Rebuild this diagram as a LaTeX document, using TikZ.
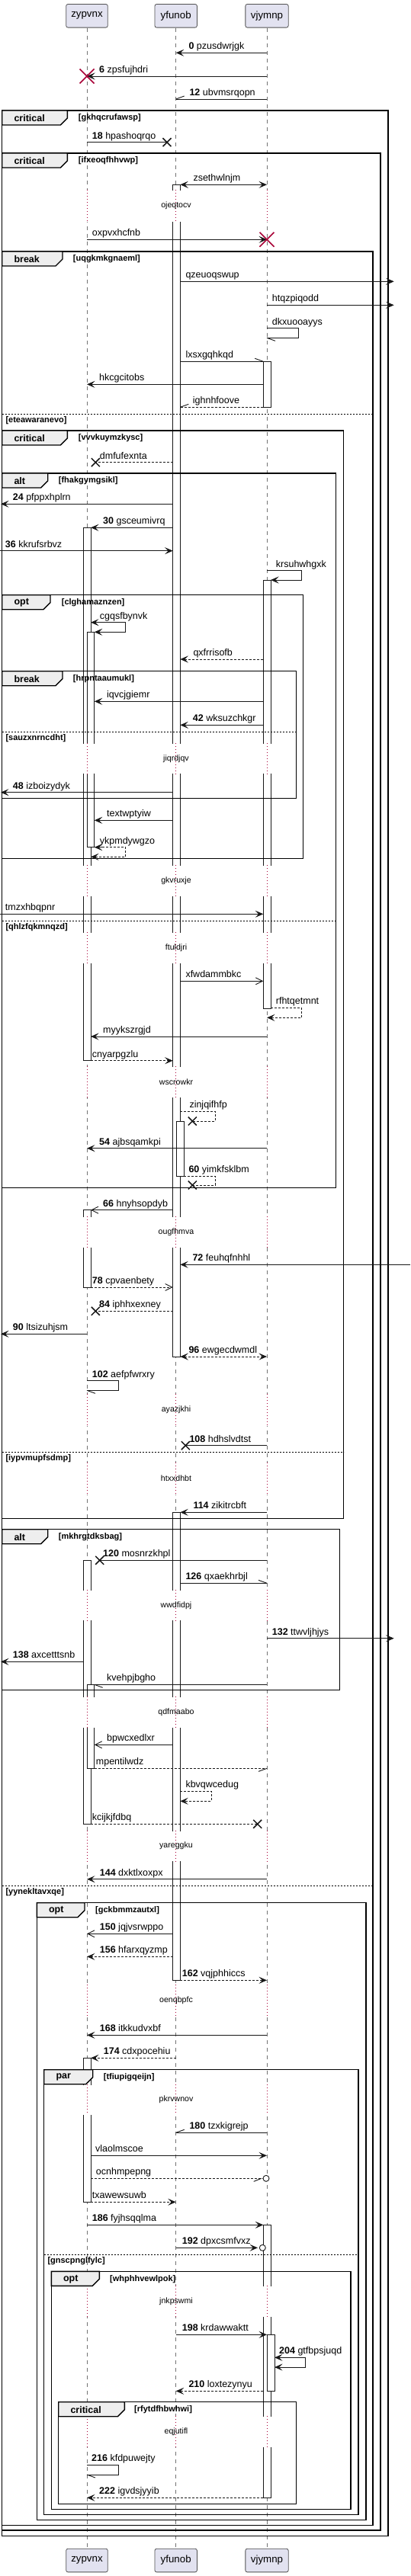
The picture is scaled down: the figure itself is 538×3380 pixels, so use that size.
\documentclass[tikz,border=0pt]{standalone}
\usepackage{fontspec}
\setmainfont{Liberation Sans}
\usetikzlibrary{arrows.meta}
\definecolor{pfill}{HTML}{E2E2F0}
\definecolor{pline}{HTML}{181818}
\definecolor{tabfill}{HTML}{EEEEEE}
\definecolor{xred}{HTML}{A80036}
\def\XZ{114}\def\XY{230.7}\def\XV{350}
\def\XZl{109.3}\def\XZr{119}\def\XZnl{114.3}\def\XZnr{123.7}
\def\XYl{226.7}\def\XYr{236.3}\def\XYnl{231.7}\def\XYnr{241.3}
\def\XVl{345.3}\def\XVr{355}\def\XVnl{350}\def\XVnr{360}
\newcommand\snum[1]{\textbf{#1}}
\tikzset{
 msg/.style={draw=pline, line width=0.9pt},
 fa/.style={-{Stealth[length=10.5pt,width=9pt,inset=4.5pt]}},
 fab/.style={{Stealth[length=10.5pt,width=9pt,inset=4.5pt]}-{Stealth[length=10.5pt,width=9pt,inset=4.5pt]}},
 oa/.style={-{Straight Barb[length=9pt,width=9pt]}},
 dsh/.style={dash pattern=on 3pt off 2pt},
 lb/.style={anchor=base west, inner sep=0pt, font=\fontsize{12.5}{15}\selectfont, text=black},
 part/.style={draw=pline!75, line width=0.8pt, fill=pfill, rounded corners=2.5pt, minimum height=30.7pt, inner sep=0pt, font=\fontsize{13.3}{16}\selectfont},
 life/.style={draw=black!55, line width=0.6pt, dash pattern=on 5pt off 5pt},
 actb/.style={draw=pline, line width=0.9pt, fill=white},
 frm/.style={draw=black, line width=1.4pt},
 kw/.style={anchor=west, inner sep=0pt, font=\bfseries\fontsize{12.5}{15}\selectfont},
 grd/.style={anchor=west, inner sep=0pt, font=\bfseries\fontsize{11}{13}\selectfont},
 elsl/.style={draw=black, line width=0.8pt, dash pattern=on 2pt off 2pt},
 dlyl/.style={draw=xred, line width=0.9pt, dash pattern=on 1pt off 3pt},
 dtx/.style={inner sep=0pt, font=\fontsize{10.6}{12}\selectfont},
}
\newcommand\msgA[6][]{\draw[msg,#1] (#2,#4) -- (#3,#4); \node[lb] at (#5,#4-4.5) {#6};}
\newcommand\msgS[8][]{\draw[msg,#1] (#2,#4) -- (#3,#4) -- (#3,#5) -- (#6,#5); \node[lb] at (#7,#4-4.5) {#8};}
\newcommand\hbarb[4]{\draw[msg] (#1,#2) -- ++(#3,#4);}
\newcommand\xdst[2]{\draw[xred, line width=1.6pt] (#1-9.5,#2-9.5) -- (#1+9.5,#2+9.5) (#1-9.5,#2+9.5) -- (#1+9.5,#2-9.5);}
\newcommand\xlost[2]{\draw[pline, line width=1.5pt] (#1-5.5,#2-5.5) -- (#1+5.5,#2+5.5) (#1-5.5,#2+5.5) -- (#1+5.5,#2-5.5);}
\newcommand\act[4]{\filldraw[actb] (#1,#3) rectangle (#2,#4);}
\newcommand\dly[3]{%
 \fill[white] (\XZ-13,#1+1) rectangle (\XZ+13,#2-0.5);
 \fill[white] (\XY-13,#1+1) rectangle (\XY+13,#2-0.5);
 \fill[white] (\XV-13,#1+1) rectangle (\XV+13,#2-0.5);
 \draw[dlyl] (\XZ,#1) -- (\XZ,#2) (\XY,#1) -- (\XY,#2) (\XV,#1) -- (\XV,#2);
 \node[dtx] at (231,{(#1+#2)/2}) {#3};}
\newcommand\grp[8]{%
 \draw[frm] (#1,#3) rectangle (#2,#4);
 \filldraw[frm, fill=tabfill] (#1,#3) -- (#5,#3) -- (#5,#3+10) -- (#5-9,#3+19) -- (#1,#3+19) -- cycle;
 \node[kw] at (#1+15.6,#3+10) {#6};
 \node[grd] at (#8,#3+10) {#7};}
\newcommand\els[4]{\draw[elsl] (#1,#3) -- (#2,#3); \node[grd] at (#1+4.6,#3+8.4) {#4};}
\begin{document}
\begin{tikzpicture}[x=1pt,y=-1pt]
\fill[white] (0,0) rectangle (538,3380);
\useasboundingbox (0,0) rectangle (538,3380);
% participants
\node[part, minimum width=54.6pt] (pz) at (\XZ,20.8) {zypvnx};
\node[part, minimum width=55.4pt] (py) at (\XY,20.8) {yfunob};
\node[part, minimum width=56.3pt] (pv) at (\XV,20.8) {vjymnp};
\node[part, minimum width=54.6pt] (bz) at (\XZ,3359.5) {zypvnx};
\node[part, minimum width=55.4pt] (by) at (\XY,3359.5) {yfunob};
\node[part, minimum width=56.3pt] (bv) at (\XV,3359.5) {vjymnp};
\draw[life] (pz.south) -- (bz.north);
\draw[life] (py.south) -- (by.north);
\draw[life] (pv.south) -- (bv.north);
% activations
\act{\XYl}{\XYr}{242.3}{1780}
\act{\XVl}{\XVr}{474.3}{534.3}
\act{\XZl}{\XZr}{692.3}{1391.7}
\act{\XVl}{\XVr}{761}{1323}
\act{\XZnl}{\XZnr}{829.3}{1111.7}
\act{\XYnl}{\XYnr}{1471}{1543.3}
\act{\XZl}{\XZr}{1587.7}{1689}
\act{\XYl}{\XYr}{1984.3}{2598.3}
\act{\XZl}{\XZr}{2047.3}{2393.3}
\act{\XZnl}{\XZnr}{2210.3}{2320.3}
\act{\XZl}{\XZr}{2700.3}{2889.3}
\act{\XVl}{\XVr}{2919.3}{3277.3}
\act{\XVnl}{\XVnr}{3063.3}{3137.3}
% delays
\dly{249}{291}{ojeqtocv}
\dly{975}{1015.7}{jiqrdjqv}
\dly{1135}{1176}{gkvruxje}
\dly{1223.3}{1264}{ftuldjri}
\dly{1399}{1440}{wscrowkr}
\dly{1596}{1637.3}{ougfhmva}
\dly{1829.3}{1871}{ayazjkhi}
\dly{1919}{1961}{htxxdhbt}
\dly{2086}{2126.7}{wwdfidpj}
\dly{2225.7}{2267.3}{qdfmaabo}
\dly{2401.7}{2442.7}{yareggku}
\dly{2604}{2646}{oenqbpfc}
\dly{2735}{2775}{pkrvwnov}
\dly{2999.3}{3040}{jnkpswmi}
\dly{3170}{3211.7}{eqjutifl}
% groups
\grp{2.7}{509}{145}{3327.3}{88.3}{critical}{[gkhqcrufawsp]}{102.7}
\grp{2.7}{499}{201}{3320}{88.3}{critical}{[ifxeoqfhhvwp]}{102.7}
\grp{2.7}{489}{330}{3313.3}{82}{break}{[uqgkmkgnaeml]}{95.7}
\els{2.7}{489}{543.3}{[eteawaranevo]}
\els{2.7}{489}{2474.3}{[yynekltavxqe]}
\grp{2.7}{450.7}{565}{1992.3}{88.3}{critical}{[vvvkuymzkysc]}{102.7}
\els{2.7}{450.7}{1905.3}{[iypvmupfsdmp]}
\grp{2.7}{440.7}{621}{1558.3}{62.7}{alt}{[fhakgymgsikl]}{76.7}
\els{2.7}{440.7}{1208.3}{[qhlzfqkmnqzd]}
\grp{2.7}{397.7}{780.7}{1126.7}{66}{opt}{[clghamaznzen]}{80.7}
\grp{2.7}{388.3}{880.7}{1047.3}{82}{break}{[hrpntaaumukl]}{95.7}
\els{2.7}{388.3}{960.3}{[sauzxnrncdht]}
\grp{2.7}{445.7}{2006.7}{2217.7}{62.7}{alt}{[mkhrgtdksbag]}{76.7}
\grp{48.3}{480}{2496.7}{3306.7}{111}{opt}{[gckbmmzautxl]}{125}
\grp{57.7}{470}{2715.7}{3299.3}{121.7}{par}{[tfiupigqeijn]}{135.7}
\els{57.7}{470}{2958.3}{[gnscpnglfylc]}
\grp{67.3}{460}{2980.3}{3292.3}{130.3}{opt}{[whphhvewlpok]}{144}
\grp{76.7}{388.3}{3151.7}{3285.3}{163.3}{critical}{[rfytdfhbwhwi]}{176}
% messages
\msgA[fa]{\XV}{\XY}{69.3}{247.3}{\snum{0} pzusdwrjgk}
\msgA[fa]{\XV}{\XZ}{100}{130}{\snum{6} zpsfujhdri} \xdst{\XZ}{100}
\msgA{\XV}{\XY}{130}{248.3}{\snum{12} ubvmsrqopn} \hbarb{\XY}{130}{11}{-4}
\msgA{\XZ}{219}{186.7}{120.7}{\snum{18} hpashoqrqo} \xlost{219}{186.7}
\msgA[fab]{\XYr}{\XV}{242.3}{253.3}{zsethwlnjm}
\msgA[fa]{\XZ}{\XV}{314.3}{120.7}{oxpvxhcfnb} \xdst{\XV}{314.3}
\msgA[fa]{\XYr}{516.7}{369.3}{243.3}{qzeuoqswup}
\msgA[fa]{\XV}{516.7}{400.3}{356.7}{htqzpiqodd}
\msgS{\XV}{391}{430.7}{443.3}{\XV}{356.7}{dkxuooayys} \hbarb{\XV}{443.3}{11}{4}
\msgA{\XYr}{\XVl}{474.3}{243.3}{lxsxgqhkqd} \hbarb{\XVl}{474.3}{-11}{-4}
\msgA[fa]{\XVl}{\XZ}{504.3}{130}{hkcgcitobs}
\msgA[dsh]{\XVl}{\XYr}{534.3}{252.7}{ighnhfoove} \hbarb{\XYr}{534.3}{11}{-4}
\msgA[dsh]{\XYl}{125.3}{606.7}{130.7}{dmfufexnta} \xlost{125.3}{606.7}
\msgA[fa]{\XYl}{1}{661.3}{16.7}{\snum{24} pfppxhplrn}
\msgA[fa]{\XYl}{\XZr}{692.3}{135}{\snum{30} gsceumivrq}
\msgA[fa]{0}{\XYl}{722.7}{6.7}{\snum{36} kkrufsrbvz}
\msgS[fa]{\XV}{395.7}{748.7}{761}{\XVr}{361.7}{krsuhwhgxk}
\msgS[fa]{\XZr}{164.7}{816.7}{829.3}{\XZnr}{130.7}{cgqsfbynvk} \draw[msg,fa] (\XZr+10,816.7) -- (\XZr,816.7);
\msgA[fa,dsh]{\XVl}{\XYr}{865}{253.3}{qxfrrisofb}
\msgA[fa]{\XVl}{\XZnr}{920.3}{140}{iqvcjgiemr}
\msgA[fa]{\XVl}{\XYr}{951.3}{252.7}{\snum{42} wksuzchkgr}
\msgA[fa]{\XYl}{1}{1039.7}{16.7}{\snum{48} izboizydyk}
\msgA[fa]{\XYl}{\XZnr}{1076.3}{140}{textwptyiw}
\msgS[fa,dsh]{\XZnr}{164.7}{1111.7}{1124.3}{\XZr}{130.7}{ykpmdywgzo} \draw[msg,fa] (\XZnr+10,1111.7) -- (\XZnr,1111.7);
\msgA[fa]{0}{\XVl}{1199.3}{6.7}{tmzxhbqpnr}
\msgA[oa]{\XYr}{\XVl}{1287.3}{243.3}{xfwdammbkc}
\msgS[fa,dsh]{\XVr}{395.7}{1322.3}{1335.3}{\XV}{361.7}{rfhtqetmnt}
\msgA[fa]{\XV}{\XZr}{1360}{135}{myykszrgjd}
\msgA[fa,dsh]{\XZr}{\XYl}{1391.7}{120.7}{cnyarpgzlu}
\msgS[dsh]{\XYr}{282.3}{1458.3}{1471}{252.3}{248.3}{zinjqifhfp} \xlost{252.3}{1471}
\msgA[fa]{\XV}{\XZ}{1506.7}{130}{\snum{54} ajbsqamkpi}
\msgS[dsh]{\XYnr}{282.3}{1543.3}{1555}{252.3}{247.3}{\snum{60} yimkfsklbm} \xlost{252.3}{1555}
\msgA[oa]{\XYl}{\XZr}{1587.7}{135}{\snum{66} hnyhsopdyb}
\msgA[fa]{538}{\XYr}{1659.3}{252.3}{\snum{72} feuhqfnhhl}
\msgA[oa,dsh]{\XZr}{\XYl}{1689}{120.7}{\snum{78} cpvaenbety}
\msgA[dsh]{\XYl}{125.3}{1720.3}{130}{\snum{84} iphhxexney} \xlost{125.3}{1720.3}
\msgA[fa]{\XZ}{1}{1750.3}{16.7}{\snum{90} ltsizuhjsm}
\msgA[fab,dsh]{\XYr}{\XV}{1780}{247.3}{\snum{96} ewgecdwmdl}
\msgS{\XZ}{155}{1811.7}{1824.3}{\XZ}{120.7}{\snum{102} aefpfwrxry} \hbarb{\XZ}{1824.3}{11}{4}
\msgA{\XV}{243.3}{1896.7}{248.3}{\snum{108} hdhslvdtst} \xlost{243.3}{1896.7}
\msgA[fa]{\XV}{\XYr}{1984.3}{253.3}{\snum{114} zikitrcbft}
\msgA{\XV}{130.7}{2047.3}{135}{\snum{120} mosnrzkhpl} \xlost{130.7}{2047.3}
\msgA{\XYr}{\XV}{2077.3}{243.3}{\snum{126} qxaekhrbjl} \hbarb{\XV}{2077.3}{-11}{-4}
\msgA[fa]{\XV}{516.7}{2149.7}{356.7}{\snum{132} ttwvljhjys}
\msgA[fa]{\XZl}{1}{2180.3}{16.7}{\snum{138} axcetttsnb}
\msgA{\XV}{\XZnr}{2210.3}{140}{kvehpjbgho} \hbarb{\XZnr}{2210.3}{11}{4}
\msgA[oa]{\XYl}{\XZnr}{2289.3}{140}{bpwcxedlxr}
\msgA[dsh]{\XZnr}{\XV}{2320.3}{125.7}{mpentilwdz} \hbarb{\XV}{2320.3}{-11}{4}
\msgS[fa,dsh]{\XYr}{277.3}{2350.3}{2363.3}{\XYr}{243.3}{kbvqwcedug}
\msgA[dsh]{\XZr}{337.7}{2393.3}{120.7}{kcijkjfdbq} \xlost{337.7}{2393.3}
\msgA[fa]{\XV}{\XZ}{2465.7}{130.7}{\snum{144} dxktlxoxpx}
\msgA[oa]{\XYl}{\XZ}{2537.3}{130.7}{\snum{150} jqjvsrwppo}
\msgA[fa,dsh]{\XYl}{\XZ}{2567.3}{130.7}{\snum{156} hfarxqyzmp}
\msgA[fa,dsh]{\XYr}{\XV}{2598.3}{238.7}{\snum{162} vqjphhiccs}
\msgA[fa]{\XV}{\XZ}{2670.3}{130.7}{\snum{168} itkkudvxbf}
\msgA[fa,dsh]{\XY}{\XZr}{2700.3}{135.7}{\snum{174} cdxpocehiu}
\msgA{\XV}{\XY}{2798.3}{248.3}{\snum{180} tzxkigrejp} \hbarb{\XY}{2798.3}{11}{-4}
\msgA[fa]{\XZr}{\XV}{2828.3}{125}{vlaolmscoe}
\msgA[dsh]{\XZr}{345}{2858.3}{125.7}{ocnhmpepng} \hbarb{342.7}{2858.3}{-10}{4}
\draw[msg, fill=white] (349,2858.3) circle (4pt);
\msgA[fa,dsh]{\XZr}{\XY}{2889.3}{120.7}{txawewsuwb}
\msgA[fa]{\XZ}{\XVl}{2919.3}{120.7}{\snum{186} fyjhsqqlma}
\msgA[fa]{\XY}{338}{2949.3}{238.7}{\snum{192} dpxcsmfvxz}
\draw[msg, fill=white] (344.3,2949.3) circle (4pt);
\msgA[fa]{\XY}{\XVnl}{3063.3}{238.7}{\snum{198} krdawwaktt}
\msgS[fa]{\XVnr}{400.7}{3093.3}{3106}{\XVnr}{366}{\snum{204} gtfbpsjuqd} \draw[msg,fa] (\XVnr+10,3093.3) -- (\XVnr,3093.3);
\msgA[fa,dsh]{\XVl}{\XY}{3137.3}{247.3}{\snum{210} loxtezynyu}
\msgS{\XZ}{155}{3234.3}{3247}{\XZ}{120}{\snum{216} kfdpuwejty} \hbarb{\XZ}{3247}{11}{4}
\msgA[fa,dsh]{\XVl}{\XZ}{3277.3}{130}{\snum{222} igvdsjyyib}
\end{tikzpicture}
\end{document}
